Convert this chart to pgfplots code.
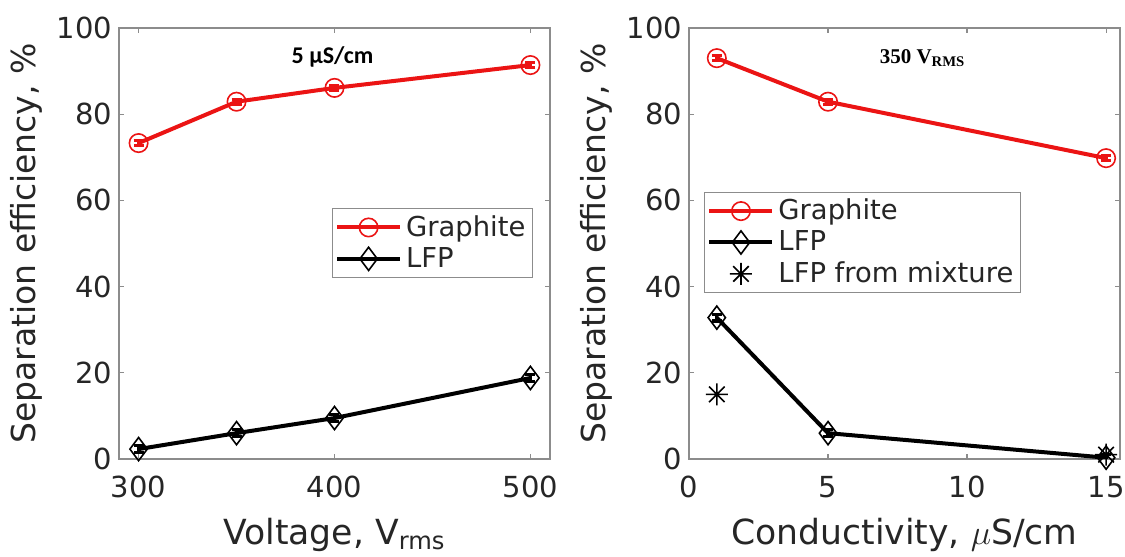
\documentclass[border=0pt]{standalone}
\usepackage{fontspec}
\setmainfont{DejaVu Sans}
\newfontfamily\calib{Carlito}
\newfontfamily\serifb{Liberation Serif}
\usepackage{pgfplots}
\pgfplotsset{compat=1.18}
\definecolor{axgray}{RGB}{140,140,140}
\definecolor{txt}{RGB}{38,38,38}
\definecolor{mred}{RGB}{235,20,20}

% matlab-like '*' marker: 4 strokes
\pgfdeclareplotmark{mstar}{%
  \pgfpathmoveto{\pgfqpoint{0pt}{\pgfplotmarksize}}\pgfpathlineto{\pgfqpoint{0pt}{-\pgfplotmarksize}}%
  \pgfpathmoveto{\pgfqpoint{\pgfplotmarksize}{0pt}}\pgfpathlineto{\pgfqpoint{-\pgfplotmarksize}{0pt}}%
  \pgfpathmoveto{\pgfqpoint{.707\pgfplotmarksize}{.707\pgfplotmarksize}}\pgfpathlineto{\pgfqpoint{-.707\pgfplotmarksize}{-.707\pgfplotmarksize}}%
  \pgfpathmoveto{\pgfqpoint{-.707\pgfplotmarksize}{.707\pgfplotmarksize}}\pgfpathlineto{\pgfqpoint{.707\pgfplotmarksize}{-.707\pgfplotmarksize}}%
  \pgfusepathqstroke}

\pgfplotsset{
  sepax/.style={
    scale only axis, width=215.5pt, height=215.5pt,
    ymin=0, ymax=100, ytick={0,20,...,100},
    axis line style={axgray, line width=0.6pt},
    tick style={axgray, line width=0.6pt},
    major tick length=2.5pt,
    tick align=inside,
    ticklabel style={font=\fontsize{14.5}{14.5}\selectfont, text=txt},
    xticklabel shift=5pt,
    /pgf/number format/assume math mode=true,
    xlabel style={font=\fontsize{17.3}{18}\selectfont, text=txt, yshift=-3pt},
    ylabel style={font=\fontsize{16.5}{18}\selectfont, text=txt},
    ylabel={Separation efficiency, \%},
    legend style={font=\fontsize{13.7}{15}\selectfont, draw=axgray, text=txt,
      inner sep=1.5pt, /tikz/every even column/.append style={column sep=0pt}},
    legend cell align=left,
    legend image code/.code={%
      \draw[mark repeat=2,mark phase=2,#1] plot coordinates {(0pt,0pt)(15.75pt,0pt)(31.5pt,0pt)};},
    error bars/y dir=both, error bars/y explicit,
    error bars/error mark options={rotate=90, mark size=2.5pt, line width=1.6pt},
  },
  gr/.style={mred, line width=2pt, mark=o, mark size=4.6pt, mark options={line width=0.8pt},
    error bars/error bar style={line width=1.6pt, mred}},
  lfp/.style={black, line width=2pt, mark=diamond, mark size=5.8pt, mark options={line width=0.8pt},
    error bars/error bar style={line width=1.6pt, black}},
}

\begin{document}
\begin{tikzpicture}
\path[use as bounding box] (-59.5pt,-49pt) rectangle (503pt,229.5pt);

\begin{axis}[sepax, at={(0pt,0pt)},
  xmin=290, xmax=510, xtick={300,400,500},
  xlabel={Voltage, V\textsubscript{rms}},
  legend style={at={(0.960,0.582)}, anchor=north east}]
\addplot[gr] table[x=x, y=y, y error=e] {
x y e
300 73.3 0.6
350 82.9 0.6
400 86.1 0.6
500 91.4 0.6
};
\addlegendentry{Graphite}
\addplot[lfp] table[x=x, y=y, y error=e] {
x y e
300 2.3 0.8
350 6.0 0.8
400 9.5 0.8
500 18.8 0.8
};
\addlegendentry{LFP}
\node[font=\calib\bfseries\fontsize{12}{12}\selectfont, text=black] at (axis cs:399,93.3) {5 µS/cm};
\end{axis}

\begin{axis}[sepax, at={(285pt,0pt)},
  xmin=0, xmax=15.5, xtick={0,5,10,15},
  xlabel={Conductivity, $\mu$S/cm},
  legend style={at={(0.035,0.62)}, anchor=north west}]
\addplot[gr] table[x=x, y=y, y error=e] {
x y e
1 93.0 0.6
5 82.9 0.6
15 69.8 0.6
};
\addlegendentry{Graphite}
\addplot[lfp] table[x=x, y=y, y error=e] {
x y e
1 32.8 0.8
5 6.0 0.8
15 0.3 0.8
};
\addlegendentry{LFP}
\addplot[black, only marks, mark=mstar, mark size=5.5pt, mark options={line width=0.8pt}] coordinates {
(1,15.0) (15,1.0)
};
\addlegendentry{LFP from mixture}
\node[font=\serifb\bfseries\fontsize{10.5}{12}\selectfont, text=black] at (axis cs:8.4,93) {350 V\textsubscript{RMS}};
\end{axis}
\end{tikzpicture}
\end{document}
